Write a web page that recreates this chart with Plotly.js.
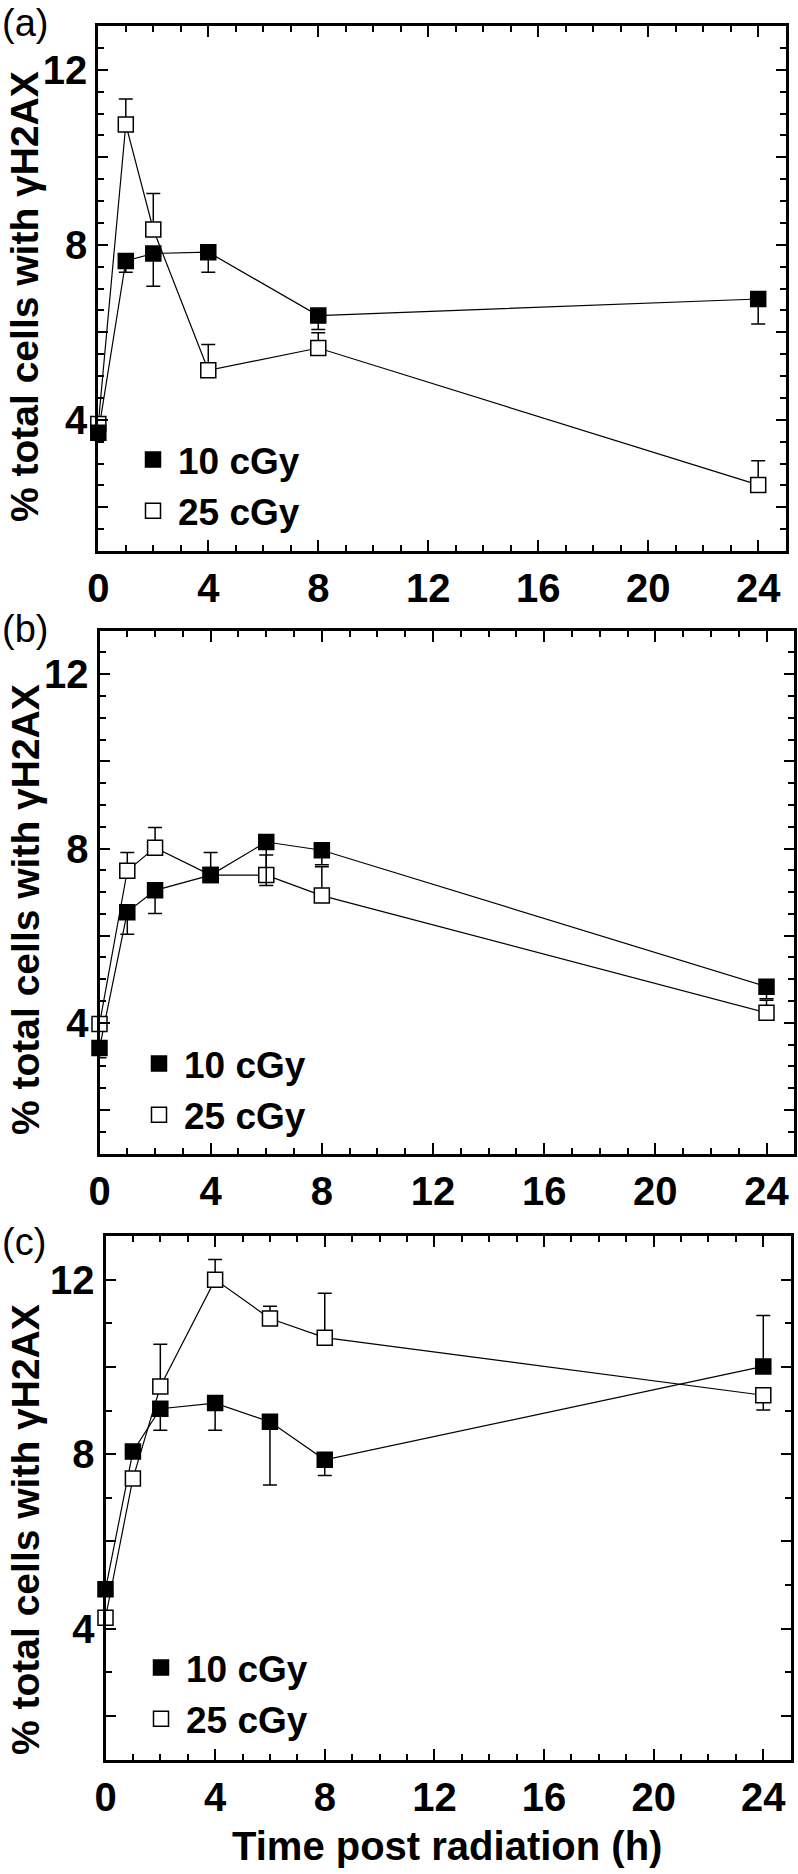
<!DOCTYPE html>
<html>
<head>
<meta charset="utf-8">
<script src="https://cdn.plot.ly/plotly-3.0.1.min.js"></script>
<style>
  html, body { margin: 0; padding: 0; background: #ffffff; }
  #chart { width: 798px; height: 1874px; }
</style>
</head>
<body>
<div id="chart"></div>
<script>
// ---------------- data ----------------
var seriesNames = ["10 cGy", "25 cGy"];
var panelLabels = ["(a)", "(b)", "(c)"];
var yTitle = "% total cells with \u03b3H2AX";
var xTitle = "Time post radiation (h)";

var yTickVals = [2, 4, 6, 8, 10, 12];
var yTickText = ["", "4", "", "8", "", "12"];

// panel (a)
var hoursA = [0, 1, 2, 4, 8, 24];
var a10 = [3.70, 7.63, 7.80, 7.83, 6.38, 6.76];
var a10Minus = [0.15, 0.26, 0.75, 0.46, 0.32, 0.57];
var a10Plus = [0, 0, 0, 0, 0, 0];
var a25 = [3.90, 10.75, 8.35, 5.13, 5.64, 2.51];
var a25Plus = [0, 0.58, 0.82, 0.59, 0.35, 0.55];
var a25Minus = [0, 0, 0, 0, 0, 0];

// panel (b)
var hoursB = [0, 1, 2, 4, 6, 8, 24];
var b10 = [3.42, 6.54, 7.04, 7.39, 8.15, 7.96, 4.83];
var b10Minus = [0.22, 0.51, 0.53, 0, 1.00, 0.33, 0.28];
var b10Plus = [0, 0, 0, 0, 0, 0, 0];
var b25 = [3.97, 7.49, 8.02, 7.39, 7.39, 6.92, 4.23];
var b25Plus = [0, 0.42, 0.46, 0.52, 0.46, 0.66, 0.29];
var b25Minus = [0, 0, 0, 0, 0, 0, 0];

// panel (c)
var hoursC = [0, 1, 2, 4, 6, 8, 24];
var c10 = [4.90, 8.06, 9.04, 9.17, 8.74, 7.87, 10.01];
var c10Minus = [0, 0, 0.49, 0.62, 1.45, 0.36, 0];
var c10Plus = [0, 0, 0, 0, 0, 0, 1.17];
var c25 = [4.25, 7.44, 9.55, 12.00, 11.11, 10.67, 9.35];
var c25Plus = [0, 0, 0.97, 0.46, 0.28, 1.02, 0];
var c25Minus = [0, 0, 0, 0, 0, 0, 0.34];

// ---------------- layout helpers ----------------
var W = 798, H = 1874;
var FONT = "Liberation Sans, Arial, Helvetica, sans-serif";
function px(x) { return x / W; }
function py(y) { return 1 - y / H; }

var panels = [
  { hours: hoursA, s10: a10, s10p: a10Plus, s10m: a10Minus, s25: a25, s25p: a25Plus, s25m: a25Minus,
    left: 98.3, right: 785.7, top: 26, bottom: 551, yMinor: 0.5,
    leg: [128, 429], labelTop: 0, ytc: 297 },
  { hours: hoursB, s10: b10, s10p: b10Plus, s10m: b10Minus, s25: b25, s25p: b25Plus, s25m: b25Minus,
    left: 99.5, right: 794.3, top: 630.7, bottom: 1153.5, yMinor: 0.5,
    leg: [134, 1033], labelTop: 606, ytc: 910 },
  { hours: hoursC, s10: c10, s10p: c10Plus, s10m: c10Minus, s25: c25, s25p: c25Plus, s25m: c25Minus,
    left: 105.5, right: 790.7, top: 1236, bottom: 1759.5, yMinor: 1,
    leg: [136, 1637], labelTop: 1219, ytc: 1530 }
];

var data = [];
var layout = {
  width: W, height: H,
  margin: { l: 0, r: 0, t: 0, b: 0 },
  paper_bgcolor: "#ffffff",
  plot_bgcolor: "#ffffff",
  showlegend: true,
  font: { family: FONT, color: "#000000" },
  annotations: []
};

panels.forEach(function (p, i) {
  var n = i === 0 ? "" : String(i + 1);
  var xa = "x" + n, ya = "y" + n;
  var legId = "legend" + n;

  // connecting lines (below markers)
  [p.s10, p.s25].forEach(function (s) {
    data.push({
      type: "scatter", mode: "lines", x: p.hours, y: s,
      xaxis: xa, yaxis: ya, showlegend: false, hoverinfo: "skip",
      line: { color: "#000000", width: 1.2 }, cliponaxis: false
    });
  });

  // 25 cGy open squares
  data.push({
    type: "scatter", mode: "markers", name: seriesNames[1],
    x: p.hours, y: p.s25, xaxis: xa, yaxis: ya, legend: legId, legendrank: 2,
    cliponaxis: false,
    marker: { symbol: "square", size: 15, color: "#ffffff", line: { color: "#000000", width: 1.5 } },
    error_y: { type: "data", symmetric: false, array: p.s25p, arrayminus: p.s25m,
               color: "#000000", thickness: 1.5, width: 7 }
  });
  // 10 cGy filled squares
  data.push({
    type: "scatter", mode: "markers", name: seriesNames[0],
    x: p.hours, y: p.s10, xaxis: xa, yaxis: ya, legend: legId, legendrank: 1,
    cliponaxis: false,
    marker: { symbol: "square", size: 15, color: "#000000", line: { color: "#000000", width: 1.5 } },
    error_y: { type: "data", symmetric: false, array: p.s10p, arrayminus: p.s10m,
               color: "#000000", thickness: 1.5, width: 7 }
  });

  var common = {
    showline: true, linewidth: 3, linecolor: "#000000",
    mirror: "allticks", ticks: "inside", tickwidth: 2, tickcolor: "#000000",
    showgrid: false, zeroline: false, fixedrange: true,
    tickfont: { family: FONT, size: 40, weight: "bold", color: "#000000" }
  };

  layout["xaxis" + n] = Object.assign({}, common, {
    domain: [px(p.left), px(p.right)], anchor: ya,
    range: [0, 25], tickmode: "linear", tick0: 0, dtick: 4, ticklen: 11,
    minor: { tickmode: "linear", tick0: 0, dtick: 1, ticklen: 6, tickwidth: 2, ticks: "inside", tickcolor: "#000000" }
  });
  layout["yaxis" + n] = Object.assign({}, common, {
    domain: [py(p.bottom), py(p.top)], anchor: xa,
    range: [1, 13], tickmode: "array", tickvals: yTickVals, ticktext: yTickText, ticklen: 10,
    minor: { tickmode: "linear", tick0: 0, dtick: p.yMinor, ticklen: 6, tickwidth: 2, ticks: "inside", tickcolor: "#000000" }
  });

  layout[legId] = {
    x: px(p.leg[0]), y: py(p.leg[1]), xanchor: "left", yanchor: "top",
    xref: "paper", yref: "paper",
    bgcolor: "rgba(0,0,0,0)", borderwidth: 0, itemwidth: 40,
    traceorder: "normal",
    font: { family: FONT, size: 37, weight: "bold", color: "#000000" }
  };

  layout.annotations.push({
    text: panelLabels[i], showarrow: false, xref: "paper", yref: "paper",
    x: 0, y: py(p.labelTop), xanchor: "left", yanchor: "top",
    font: { family: FONT, size: 38, color: "#000000" }
  });
  layout.annotations.push({
    text: yTitle, showarrow: false, xref: "paper", yref: "paper", textangle: -90,
    x: px(25), y: py(p.ytc), xanchor: "center", yanchor: "middle",
    font: { family: FONT, size: 39, weight: "bold", color: "#000000" }
  });
});

layout.annotations.push({
  text: xTitle, showarrow: false, xref: "paper", yref: "paper",
  x: px(447), y: py(1846), xanchor: "center", yanchor: "middle",
  font: { family: FONT, size: 40, weight: "bold", color: "#000000" }
});

Plotly.newPlot("chart", data, layout, { staticPlot: true, displayModeBar: false });
</script>
</body>
</html>
